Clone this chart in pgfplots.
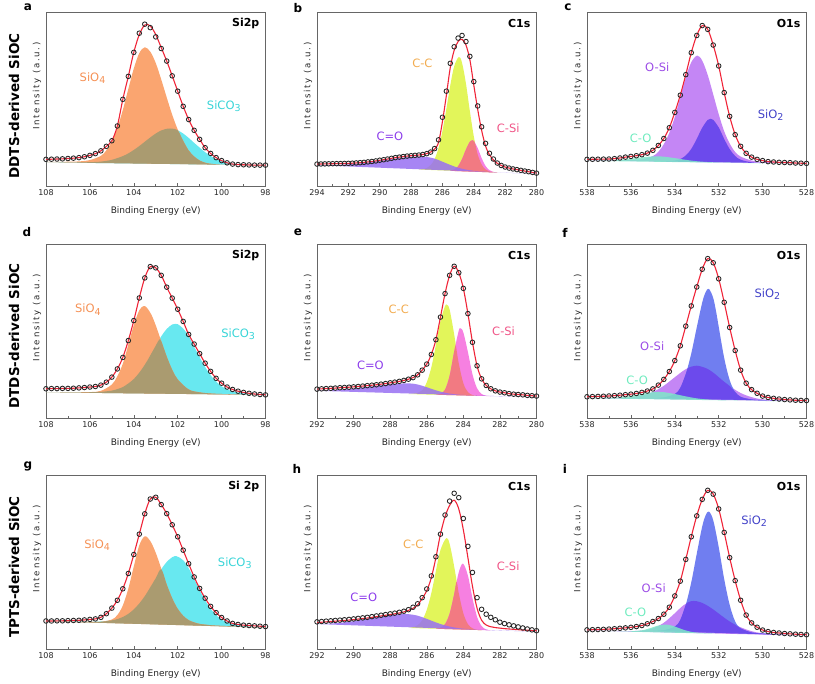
\documentclass[border=0pt]{standalone}
\usepackage{pgfplots}
\usepackage{pgfplotstable}
\pgfplotsset{compat=1.18}
\usepackage{fontspec}
\setmainfont{DejaVu Sans}
\newfontfamily\spacedfont[LetterSpace=20]{DejaVu Sans}

\definecolor{fSiO}{RGB}{250,165,112}
\definecolor{fSiCO}{RGB}{104,232,240}
\definecolor{fSiOv}{RGB}{170,155,112}
\definecolor{fCC}{RGB}{226,245,90}
\definecolor{fCSi}{RGB}{246,128,225}
\definecolor{fCov}{RGB}{242,122,130}
\definecolor{fCeqO}{RGB}{152,112,242}
\definecolor{fOSi}{RGB}{196,134,245}
\definecolor{fSiOt}{RGB}{112,126,240}
\definecolor{fOov}{RGB}{108,74,236}
\definecolor{fCO}{RGB}{126,232,200}
\definecolor{fitred}{RGB}{240,36,56}
\definecolor{lSiO}{RGB}{245,145,85}
\definecolor{lSiCO}{RGB}{55,212,215}
\definecolor{lCC}{RGB}{242,172,80}
\definecolor{lCSi}{RGB}{240,85,135}
\definecolor{lCeqO}{RGB}{140,60,235}
\definecolor{lOSi}{RGB}{155,75,230}
\definecolor{lSiOt}{RGB}{65,65,200}
\definecolor{lCO}{RGB}{110,235,190}

\newcommand{\tickfont}{\fontsize{8bp}{9bp}\selectfont}
\newcommand{\axlabfont}{\fontsize{9bp}{10bp}\selectfont}
\newcommand{\ylabfont}{\spacedfont\fontsize{8.6bp}{9bp}\selectfont}
\newcommand{\labfont}{\fontsize{11.5bp}{12bp}\selectfont}
\newcommand{\sub}[1]{\raisebox{-0.35ex}{\fontsize{9.5bp}{10bp}\selectfont #1}}

\tikzset{
 lab/.style={font=\labfont},
 ttl/.style={anchor=east, font=\fontsize{11bp}{12bp}\selectfont\bfseries},
}
\pgfplotsset{
 xps/.style={
  scale only axis, width=219.5bp, height=174bp, anchor=south west,
  x dir=reverse, ymin=0, ymax=100, ytick=\empty,
  xtick distance=2, minor x tick num=1,
  tick align=inside, xtick pos=bottom,
  major tick length=3bp, minor tick length=1.8bp,
  axis line style={black!60, line width=0.7bp},
  tick style={black!60, line width=0.5bp},
  /pgf/number format/assume math mode=true,
  /pgf/number format/1000 sep={},
  xticklabel style={font=\tickfont, text=black!85, yshift=-0.5bp},
  xlabel={Binding Energy (eV)},
  xlabel style={font=\axlabfont, text=black!85, at={(axis description cs:0.5,-0.145)}, anchor=center},
  ylabel={Intensity (a.u.)},
  ylabel style={font=\ylabfont, text=black!85, at={(axis description cs:-0.041,0.575)}, anchor=center},
 },
 comp/.style={draw=none, smooth, tension=0.55},
 fitline/.style={smooth, tension=0.55, draw=fitred, line width=1.1bp, no marks},
 datamarks/.style={only marks, mark=o, mark size=2.3bp, mark options={draw=black!85, line width=0.85bp}},
}

% ---------- measured / fitted curves (x, fit e, data d) ----------
\pgfplotstableread[row sep=\\]{
x e d\\
108 15.3 15.3\\ 107.75 15.4 15.4\\ 107.5 15.5 15.5\\ 107.25 15.6 15.6\\ 107 15.8 15.8\\
106.75 16.0 16.0\\ 106.5 16.3 16.3\\ 106.25 16.8 16.8\\ 106 17.6 17.6\\ 105.75 18.6 18.6\\
105.5 20.2 20.2\\ 105.25 22.8 22.8\\ 105 26.0 26.0\\ 104.75 34.5 34.5\\ 104.5 49.8 49.8\\
104.25 63.0 63.0\\ 104 76.8 76.8\\ 103.75 87.0 87.8\\ 103.5 92.5 93.0\\ 103.25 92.0 91.0\\
103 87.0 85.7\\ 102.75 79.5 79.0\\ 102.5 71.8 71.8\\ 102.25 63.3 63.3\\ 102 54.5 54.5\\
101.75 45.8 45.8\\ 101.5 38.2 38.2\\ 101.25 32.0 32.0\\ 101 26.8 26.8\\ 100.75 22.0 22.0\\
100.5 18.7 18.7\\ 100.25 16.3 16.3\\ 100 14.6 14.6\\ 99.75 13.3 13.3\\ 99.5 12.6 12.6\\
99.25 12.3 12.3\\ 99 12.2 12.2\\ 98.75 12.1 12.1\\ 98.5 12.0 12.0\\ 98.25 12.0 12.0\\ 98 12.0 12.0\\
}\tabA

\pgfplotstableread[row sep=\\]{
x e d\\
294 12.6 12.6\\ 293.75 12.65 12.65\\ 293.5 12.7 12.7\\ 293.25 12.75 12.75\\ 293 12.8 12.8\\
292.75 12.85 12.85\\ 292.5 12.9 12.9\\ 292.25 12.95 12.95\\ 292 13.0 13.0\\ 291.75 13.1 13.1\\
291.5 13.25 13.25\\ 291.25 13.4 13.4\\ 291 13.6 13.6\\ 290.75 13.85 13.85\\ 290.5 14.1 14.1\\
290.25 14.4 14.4\\ 290 14.8 14.8\\ 289.75 15.1 15.1\\ 289.5 15.5 15.5\\ 289.25 15.9 15.9\\
289 16.3 16.3\\ 288.75 16.6 16.6\\ 288.5 16.9 16.9\\ 288.25 17.2 17.2\\ 288 17.4 17.4\\
287.75 17.6 17.6\\ 287.5 17.8 17.8\\ 287.25 18.1 18.1\\ 287 18.6 18.6\\ 286.75 19.5 19.5\\
286.5 21.2 21.5\\ 286.25 25.0 26.5\\ 286 37.0 39.5\\ 285.75 52.0 54.5\\ 285.5 68.0 70.5\\
285.25 78.0 80.0\\ 285 83.0 85.0\\ 284.75 84.3 86.5\\ 284.5 81.0 83.0\\ 284.25 72.5 74.5\\
284 58.0 60.0\\ 283.75 44.0 46.0\\ 283.5 32.0 34.0\\ 283.25 23.0 24.5\\ 283 18.0 18.8\\
282.75 15.0 15.5\\ 282.5 13.0 13.2\\ 282.25 11.8 11.8\\ 282 10.9 10.9\\ 281.75 10.3 10.3\\
281.5 9.8 9.8\\ 281.25 9.4 9.4\\ 281 9.0 9.0\\ 280.75 8.6 8.6\\ 280.5 8.2 8.2\\
280.25 7.8 7.8\\ 280 7.4 7.4\\
}\tabB

\pgfplotstableread[row sep=\\]{
x e\\
538 15.3\\ 537.75 15.35\\ 537.5 15.4\\ 537.25 15.45\\ 537 15.5\\ 536.75 15.7\\ 536.5 16.1\\
536.25 16.6\\ 536 17.0\\ 535.75 17.4\\ 535.5 18.0\\ 535.25 18.9\\ 535 20.5\\ 534.75 23.3\\
534.5 27.3\\ 534.25 33.5\\ 534 42.3\\ 533.75 52.2\\ 533.5 64.0\\ 533.25 76.6\\ 533 86.5\\
532.75 92.2\\ 532.5 90.0\\ 532.25 81.0\\ 532 69.0\\ 531.75 53.7\\ 531.5 40.0\\ 531.25 29.5\\
531 22.8\\ 530.75 18.8\\ 530.5 16.6\\ 530.25 15.3\\ 530 14.6\\ 529.75 14.0\\ 529.5 13.8\\
529.25 13.6\\ 529 13.5\\ 528.75 13.4\\ 528.5 13.2\\ 528.25 13.1\\ 528 13.0\\
}\tabC

\pgfplotstableread[row sep=\\]{
x e\\
108 16.8\\ 107.75 16.9\\ 107.5 16.9\\ 107.25 17.0\\ 107 17.0\\ 106.75 17.1\\ 106.5 17.3\\
106.25 17.5\\ 106 17.8\\ 105.75 18.1\\ 105.5 18.9\\ 105.25 20.6\\ 105 23.5\\ 104.75 28.2\\
104.5 34.8\\ 104.25 44.5\\ 104 56.0\\ 103.75 69.0\\ 103.5 80.5\\ 103.25 87.0\\ 103 86.3\\
102.75 82.0\\ 102.5 75.2\\ 102.25 68.9\\ 102 62.5\\ 101.75 55.5\\ 101.5 48.0\\ 101.25 42.5\\
101 37.0\\ 100.75 31.5\\ 100.5 26.8\\ 100.25 22.8\\ 100 20.0\\ 99.75 17.8\\ 99.5 16.4\\
99.25 15.4\\ 99 14.7\\ 98.75 14.2\\ 98.5 13.8\\ 98.25 13.5\\ 98 13.3\\
}\tabD

\pgfplotstableread[row sep=\\]{
x e\\
292 16.6\\ 291.75 16.75\\ 291.5 16.9\\ 291.25 17.05\\ 291 17.2\\ 290.75 17.4\\ 290.5 17.55\\
290.25 17.7\\ 290 17.9\\ 289.75 18.1\\ 289.5 18.35\\ 289.25 18.6\\ 289 18.85\\ 288.75 19.1\\
288.5 19.45\\ 288.25 19.8\\ 288 20.2\\ 287.75 20.6\\ 287.5 21.05\\ 287.25 21.6\\ 287 22.3\\
286.75 23.2\\ 286.5 24.8\\ 286.25 27.5\\ 286 31.0\\ 285.75 36.5\\ 285.5 45.0\\ 285.25 58.0\\
285 71.5\\ 284.75 82.0\\ 284.5 87.2\\ 284.25 83.5\\ 284 74.5\\ 283.75 60.0\\ 283.5 43.5\\
283.25 30.0\\ 283 22.5\\ 282.75 18.7\\ 282.5 16.8\\ 282.25 15.6\\ 282 14.9\\ 281.75 14.5\\
281.5 14.0\\ 281.25 13.7\\ 281 13.5\\ 280.75 13.3\\ 280.5 13.0\\ 280.25 12.8\\ 280 12.6\\
}\tabE

\pgfplotstableread[row sep=\\]{
x e\\
538 12.2\\ 537.75 12.3\\ 537.5 12.4\\ 537.25 12.5\\ 537 12.65\\ 536.75 12.85\\ 536.5 13.1\\
536.25 13.4\\ 536 13.7\\ 535.75 14.1\\ 535.5 14.7\\ 535.25 15.5\\ 535 16.7\\ 534.75 18.9\\
534.5 22.2\\ 534.25 26.7\\ 534 33.0\\ 533.75 41.5\\ 533.5 52.8\\ 533.25 64.4\\ 533 75.3\\
532.75 85.5\\ 532.5 91.6\\ 532.25 89.2\\ 532 80.0\\ 531.75 66.5\\ 531.5 52.0\\ 531.25 38.8\\
531 27.5\\ 530.75 20.0\\ 530.5 16.3\\ 530.25 14.2\\ 530 12.6\\ 529.75 11.8\\ 529.5 11.3\\
529.25 10.9\\ 529 10.6\\ 528.75 10.4\\ 528.5 10.2\\ 528.25 10.1\\ 528 10.0\\
}\tabF

\pgfplotstableread[row sep=\\]{
x e\\
108 16.1\\ 107.75 16.1\\ 107.5 16.2\\ 107.25 16.2\\ 107 16.3\\ 106.75 16.4\\ 106.5 16.5\\
106.25 16.7\\ 106 17.0\\ 105.75 17.3\\ 105.5 18.2\\ 105.25 20.3\\ 105 23.5\\ 104.75 28.0\\
104.5 34.6\\ 104.25 43.4\\ 104 54.3\\ 103.75 66.0\\ 103.5 77.7\\ 103.25 86.2\\ 103 87.2\\
102.75 83.0\\ 102.5 77.8\\ 102.25 71.4\\ 102 64.5\\ 101.75 56.8\\ 101.5 49.0\\ 101.25 41.4\\
101 34.8\\ 100.75 29.2\\ 100.5 24.5\\ 100.25 20.9\\ 100 18.1\\ 99.75 16.1\\ 99.5 14.7\\
99.25 14.1\\ 99 13.7\\ 98.75 13.5\\ 98.5 13.3\\ 98.25 13.1\\ 98 12.9\\
}\tabG

\pgfplotstableread[row sep=\\]{
x e d\\
292 15.2 15.6\\ 291.75 15.4 15.8\\ 291.5 15.6 16.0\\ 291.25 15.8 16.2\\ 291 16.0 16.4\\
290.75 16.2 16.6\\ 290.5 16.4 16.8\\ 290.25 16.65 17.0\\ 290 16.9 17.3\\ 289.75 17.2 17.6\\
289.5 17.5 17.9\\ 289.25 17.8 18.2\\ 289 18.2 18.6\\ 288.75 18.6 19.0\\ 288.5 19.0 19.4\\
288.25 19.4 19.8\\ 288 19.8 20.2\\ 287.75 20.2 20.6\\ 287.5 20.7 21.1\\ 287.25 21.3 21.7\\
287 22.2 22.6\\ 286.75 23.4 24.0\\ 286.5 25.3 26.0\\ 286.25 29.0 29.5\\ 286 33.5 34.5\\
285.75 41.0 42.0\\ 285.5 52.5 53.0\\ 285.25 66.0 66.0\\ 285 76.0 77.0\\ 284.75 82.5 85.0\\
284.5 85.5 89.5\\ 284.25 80.5 87.0\\ 284 68.5 75.0\\ 283.75 52.5 59.0\\ 283.5 36.0 44.0\\
283.25 23.5 29.5\\ 283 16.5 22.8\\ 282.75 13.8 20.0\\ 282.5 12.8 18.2\\ 282.25 12.3 16.8\\
282 12.0 15.4\\ 281.75 11.7 14.6\\ 281.5 11.5 13.9\\ 281.25 11.3 13.3\\ 281 11.1 12.7\\
280.75 10.9 12.1\\ 280.5 10.8 11.5\\ 280.25 10.6 11.0\\ 280 10.5 10.5\\
}\tabH

\pgfplotstableread[row sep=\\]{
x e\\
538 11.0\\ 537.75 11.1\\ 537.5 11.2\\ 537.25 11.3\\ 537 11.45\\ 536.75 11.65\\ 536.5 11.9\\
536.25 12.15\\ 536 12.45\\ 535.75 12.9\\ 535.5 13.5\\ 535.25 14.5\\ 535 15.8\\ 534.75 17.5\\
534.5 20.0\\ 534.25 24.0\\ 534 30.5\\ 533.75 39.0\\ 533.5 51.5\\ 533.25 64.5\\ 533 76.5\\
532.75 86.0\\ 532.5 91.2\\ 532.25 89.0\\ 532 80.5\\ 531.75 67.0\\ 531.5 52.5\\ 531.25 39.3\\
531 28.0\\ 530.75 19.5\\ 530.5 15.0\\ 530.25 12.5\\ 530 10.9\\ 529.75 10.0\\ 529.5 9.5\\
529.25 9.2\\ 529 8.9\\ 528.75 8.7\\ 528.5 8.5\\ 528.25 8.35\\ 528 8.2\\
}\tabI

\begin{document}
\begin{tikzpicture}
\path[use as bounding box] (0,0) rectangle (815bp,684bp);

% ================= a =================
\begin{axis}[xps, at={(46bp,498bp)}, xmin=98, xmax=108]
\addplot[comp, fill=fSiCO] coordinates {(108,13.6)(107,13.55)(106.5,13.53)(106,13.7)(105.5,14.03)(105,15.05)(104.5,17.18)(104.25,18.74)(104,20.7)(103.75,22.96)(103.5,25.43)(103.25,27.89)(103,30.15)(102.75,31.91)(102.5,32.88)(102.35,33.06)(102.25,32.94)(102,32.0)(101.75,30.16)(101.5,27.63)(101.25,24.79)(101,22.05)(100.75,19.41)(100.5,17.28)(100.25,15.54)(100,14.3)(99.5,12.83)(99,12.25)(98.5,12.03)(98,11.9)} -- cycle;
\addplot[comp, fill=fSiO] coordinates {(108,13.8)(107,13.95)(106.5,14.13)(106,14.9)(105.5,17.33)(105.25,20.49)(105,25.65)(104.75,33.41)(104.5,43.68)(104.25,55.74)(104,67.5)(103.75,76.36)(103.5,79.73)(103.25,77.19)(103,70.65)(102.75,61.21)(102.5,50.88)(102.25,40.94)(102,32.5)(101.75,25.96)(101.5,20.43)(101.25,16.99)(101,14.65)(100.75,13.41)(100.5,12.78)(100,12.3)(99,12.05)(98,11.9)} -- cycle;
\addplot[comp, fill=fSiOv] coordinates {(108,13.6)(107,13.55)(106.5,13.53)(106,13.7)(105.5,14.03)(105,15.05)(104.5,17.18)(104.25,18.74)(104,20.7)(103.75,22.96)(103.5,25.43)(103.25,27.89)(103,30.15)(102.75,31.91)(102.5,32.88)(102.35,33.05)(102.25,32.94)(102,32.0)(101.75,25.96)(101.5,20.43)(101.25,16.99)(101,14.65)(100.75,13.41)(100.5,12.78)(100,12.3)(99,12.05)(98,11.9)} -- cycle;
\addplot[datamarks] table[x=x,y=d]{\tabA};
\addplot[fitline] table[x=x,y=e]{\tabA};
\node[lab, text=lSiO] at (axis cs:105.88,61.8) {SiO\sub{4}};
\node[lab, text=lSiCO] at (axis cs:99.9,45.9) {SiCO\sub{3}};
\node[ttl] at (rel axis cs:0.988,0.935) {Si2p};
\end{axis}

% ================= b =================
\begin{axis}[xps, at={(317bp,498bp)}, xmin=280, xmax=294]
\addplot[comp, fill=fCC] coordinates {(287.5,9.46)(287,10.3)(286.75,12.0)(286.5,15.5)(286.25,21.75)(286,31.6)(285.75,44.3)(285.5,57.8)(285.25,68.8)(284.95,74.2)(284.75,70.8)(284.5,58.9)(284.25,43.0)(284,28.6)(283.75,18.1)(283.5,12.35)(283.25,9.5)(283,8.4)(282.5,7.72)} -- cycle;
\addplot[comp, fill=fCSi] coordinates {(285.5,8.71)(285.25,9.5)(285,11.4)(284.75,15.5)(284.5,21.0)(284.25,25.5)(284.1,26.35)(284,25.9)(283.75,21.8)(283.5,16.05)(283.25,11.5)(283,9.1)(282.75,8.1)(282.5,7.72)} -- cycle;
\addplot[comp, fill=fCov] coordinates {(285.5,8.71)(285.25,9.5)(285,11.4)(284.75,15.5)(284.5,21.0)(284.25,25.5)(284.1,26.35)(284,25.9)(283.9,23.9)(283.75,18.1)(283.5,12.35)(283.25,9.5)(283,8.4)(282.75,7.8)(282.5,7.72)} -- cycle;
\addplot[comp, fill=fCeqO, fill opacity=0.85] coordinates {(294,11.94)(293,12.02)(292,12.44)(291,13.26)(290,14.46)(289,15.76)(288.5,16.3)(288,16.69)(287.5,16.91)(287.1,16.83)(286.5,15.74)(286,13.97)(285.5,12.11)(285,10.5)(284.5,9.42)(284,8.71)(283.5,8.32)(283,8.06)(282,7.64)(281,7.28)(280,6.94)} -- cycle;
\addplot[datamarks] table[x=x,y=d]{\tabB};
\addplot[fitline] table[x=x,y=e]{\tabB};
\node[lab, text=lCC] at (axis cs:287.28,70.4) {C-C};
\node[lab, text=lCSi] at (axis cs:281.8,33.1) {C-Si};
\node[lab, text=lCeqO] at (axis cs:289.35,28.7) {C=O};
\node[ttl] at (rel axis cs:0.988,0.935) {C1s};
\end{axis}

% ================= c =================
\begin{axis}[xps, at={(587bp,498bp)}, xmin=528, xmax=538]
\addplot[comp, fill=fOSi] coordinates {(538,14.7)(537,14.69)(536,14.86)(535.5,15.38)(535,17.19)(534.75,19.65)(534.5,24.01)(534.25,30.56)(534,39.62)(533.75,51.08)(533.5,62.34)(533.25,71.1)(532.98,74.96)(532.75,72.02)(532.5,63.77)(532.25,52.63)(532,41.28)(531.75,31.44)(531.5,24.4)(531.25,19.55)(531,16.91)(530.5,14.63)(530,13.84)(529,13.27)(528,13.0)} -- cycle;
\addplot[comp, fill=fOov] coordinates {(535,14.14)(534.5,14.16)(534,14.62)(533.75,15.48)(533.5,17.54)(533.25,21.3)(533,27.06)(532.75,33.52)(532.5,37.97)(532.37,38.65)(532.25,38.03)(532,33.68)(531.75,27.04)(531.5,21.2)(531.25,17.25)(531,15.11)(530.5,13.63)(530,13.24)} -- cycle;
\addplot[comp, fill=fCO, fill opacity=0.85] coordinates {(538,14.48)(537,14.58)(536.5,14.95)(536,15.62)(535.5,16.47)(535,17.02)(534.8,17.06)(534.5,16.86)(534,16.02)(533.5,15.02)(533,14.24)(532.5,13.76)(532,13.51)(531,13.24)(530,13.04)(528,12.7)} -- cycle;
\addplot[datamarks] table[x=x,y=e]{\tabC};
\addplot[fitline] table[x=x,y=e]{\tabC};
\node[lab, text=lOSi] at (axis cs:534.8,68.5) {O-Si};
\node[lab, text=lSiOt] at (axis cs:529.63,40.7) {SiO\sub{2}};
\node[lab, text=lCO] at (axis cs:535.56,27.3) {C-O};
\node[ttl] at (rel axis cs:0.988,0.935) {O1s};
\end{axis}

% ================= d =================
\begin{axis}[xps, at={(46bp,266bp)}, xmin=98, xmax=108]
\addplot[comp, fill=fSiCO] coordinates {(108,14.75)(107,14.75)(106,14.8)(105.5,15.03)(105,15.75)(104.75,16.61)(104.5,17.78)(104.25,19.84)(104,22.4)(103.75,26.06)(103.55,29.63)(103.4,32.61)(103.2,37.08)(103,41.55)(102.75,46.91)(102.5,51.18)(102.25,53.74)(102.1,54.12)(102,53.9)(101.75,51.46)(101.5,46.93)(101.25,40.99)(101,34.95)(100.75,29.31)(100.5,24.58)(100.25,20.94)(100,18.2)(99.5,15.23)(99,14.15)(98.5,13.58)(98,13.3)} -- cycle;
\addplot[comp, fill=fSiO] coordinates {(108,14.75)(107,14.75)(106,14.9)(105.5,15.6)(105,19.25)(104.75,24.0)(104.5,31.2)(104.25,42.1)(104,53.4)(103.75,61.9)(103.55,64.33)(103.4,63.3)(103.2,59.4)(103,53.25)(102.75,44.2)(102.5,35.3)(102.25,27.7)(102,22.2)(101.5,16.4)(101,14.75)(100.5,14.1)(100,13.8)(99,13.45)(98,13.25)} -- cycle;
\addplot[comp, fill=fSiOv] coordinates {(108,14.75)(107,14.75)(106,14.8)(105.5,15.03)(105,15.75)(104.75,16.61)(104.5,17.78)(104.25,19.84)(104,22.4)(103.75,26.06)(103.55,29.63)(103.4,32.61)(103.2,37.08)(103,41.55)(102.85,44.93)(102.75,44.2)(102.5,35.3)(102.25,27.7)(102,22.2)(101.5,16.4)(101,14.75)(100.5,14.1)(100,13.8)(99,13.45)(98,13.25)} -- cycle;
\addplot[datamarks] table[x=x,y=e]{\tabD};
\addplot[fitline] table[x=x,y=e]{\tabD};
\node[lab, text=lSiO] at (axis cs:106.09,62.3) {SiO\sub{4}};
\node[lab, text=lSiCO] at (axis cs:99.25,48.1) {SiCO\sub{3}};
\node[ttl] at (rel axis cs:0.988,0.935) {Si2p};
\end{axis}

% ================= e =================
\begin{axis}[xps, at={(317bp,266bp)}, xmin=280, xmax=292]
\addplot[comp, fill=fCC] coordinates {(287,13.77)(286.5,14.4)(286.25,15.9)(286,20.5)(285.75,29.1)(285.5,42.0)(285.25,55.7)(285,64.3)(284.9,65.1)(284.75,62.3)(284.5,48.0)(284.25,31.4)(284,20.0)(283.75,14.9)(283.5,13.2)(283.25,12.77)} -- cycle;
\addplot[comp, fill=fCSi] coordinates {(285.5,13.37)(285.25,13.9)(285,16.3)(284.75,24.3)(284.5,38.3)(284.25,50.2)(284.15,51.5)(284,49.2)(283.75,37.9)(283.5,25.1)(283.25,17.1)(283,13.8)(282.75,12.8)(282.5,12.57)} -- cycle;
\addplot[comp, fill=fCov] coordinates {(285.5,13.37)(285.25,13.9)(285,16.3)(284.75,24.3)(284.5,38.3)(284.43,41.4)(284.4,41.07)(284.25,31.4)(284,20.0)(283.75,14.9)(283.5,13.2)(283.25,12.77)} -- cycle;
\addplot[comp, fill=fCeqO, fill opacity=0.85] coordinates {(292,15.63)(291,16.02)(290,16.86)(289,18.14)(288,19.38)(287.5,19.77)(286.9,19.84)(286.5,19.27)(286,17.68)(285.5,15.91)(285,14.52)(284.5,13.68)(284,13.23)(283,12.79)(282,12.48)(281,12.2)(280,11.92)} -- cycle;
\addplot[datamarks] table[x=x,y=e]{\tabE};
\addplot[fitline] table[x=x,y=e]{\tabE};
\node[lab, text=lCC] at (axis cs:287.53,62.3) {C-C};
\node[lab, text=lCSi] at (axis cs:281.8,49.6) {C-Si};
\node[lab, text=lCeqO] at (axis cs:289.08,30.2) {C=O};
\node[ttl] at (rel axis cs:0.988,0.935) {C1s};
\end{axis}

% ================= f =================
\begin{axis}[xps, at={(587bp,266bp)}, xmin=528, xmax=538]
\addplot[comp, fill=fOSi] coordinates {(538,11.5)(537,11.43)(536,11.82)(535.5,12.8)(535,14.93)(534.5,18.54)(534,23.44)(533.5,28.05)(533,30.05)(532.5,28.15)(532,23.46)(531.5,18.37)(531,14.37)(530.5,11.98)(530,10.73)(529,9.89)(528,9.6)} -- cycle;
\addplot[comp, fill=fSiOt] coordinates {(535,11.43)(534.5,11.79)(534,13.74)(533.75,17.29)(533.5,25.25)(533.25,37.1)(533,52.05)(532.75,66.4)(532.6,72.2)(532.45,74.24)(532.25,69.0)(532.1,59.9)(532,52.46)(531.75,34.51)(531.5,21.77)(531.25,14.92)(531,12.17)(530.5,10.68)(530,10.28)(529,9.89)} -- cycle;
\addplot[comp, fill=fOov] coordinates {(535,11.43)(534.5,11.79)(534,13.74)(533.75,17.29)(533.5,25.25)(533.4,28.8)(533.25,29.5)(533,30.05)(532.75,29.4)(532.5,28.15)(532.25,26.1)(532,23.46)(531.75,20.8)(531.5,18.37)(531.25,14.92)(531,12.17)(530.5,10.68)(530,10.28)(529,9.89)} -- cycle;
\addplot[comp, fill=fCO, fill opacity=0.85] coordinates {(538,11.38)(537,11.43)(536.5,11.81)(536,12.62)(535.5,13.83)(535,14.81)(534.7,14.97)(534.5,14.84)(534,13.78)(533.5,12.41)(533,11.29)(532.5,10.62)(532,10.31)(531,10.02)(530,9.8)(528,9.4)} -- cycle;
\addplot[datamarks] table[x=x,y=e]{\tabF};
\addplot[fitline] table[x=x,y=e]{\tabF};
\node[lab, text=lSiOt] at (axis cs:529.78,71.4) {SiO\sub{2}};
\node[lab, text=lOSi] at (axis cs:535.03,41.4) {O-Si};
\node[lab, text=lCO] at (axis cs:535.72,21.6) {C-O};
\node[ttl] at (rel axis cs:0.988,0.935) {O1s};
\end{axis}

% ================= g =================
\begin{axis}[xps, at={(46bp,35bp)}, xmin=98, xmax=108]
\addplot[comp, fill=fSiCO] coordinates {(108,16.05)(107,15.82)(106,15.64)(105.5,15.83)(105,16.46)(104.75,17.2)(104.5,18.4)(104.25,20.19)(104,22.78)(103.75,26.17)(103.5,30.37)(103.25,35.46)(103,40.7)(102.75,45.84)(102.5,50.04)(102.25,52.73)(102.05,53.32)(101.75,51.0)(101.5,46.4)(101.25,40.3)(101,33.9)(100.75,28.05)(100.5,23.15)(100.25,19.5)(100,16.9)(99.5,14.3)(99,13.2)(98.5,12.7)(98,12.35)} -- cycle;
\addplot[comp, fill=fSiO] coordinates {(108,15.95)(107,15.67)(106,15.54)(105.5,15.63)(105,16.96)(104.75,19.5)(104.5,25.0)(104.25,34.69)(104,47.48)(103.75,59.57)(103.5,64.77)(103.25,62.06)(103,55.3)(102.75,46.24)(102.5,37.04)(102.25,29.13)(102,23.12)(101.75,19.11)(101.5,16.6)(101.25,15.3)(101,14.44)(100.5,13.68)(100,13.31)(99,12.78)(98,12.3)} -- cycle;
\addplot[comp, fill=fSiOv] coordinates {(108,15.95)(107,15.67)(106,15.54)(105.5,15.63)(105,16.46)(104.75,17.2)(104.5,18.4)(104.25,20.19)(104,22.78)(103.75,26.17)(103.5,30.37)(103.25,35.46)(103,40.7)(102.75,45.8)(102.5,37.04)(102.25,29.13)(102,23.12)(101.75,19.11)(101.5,16.6)(101.25,15.3)(101,14.44)(100.5,13.68)(100,13.31)(99,12.78)(98,12.3)} -- cycle;
\addplot[datamarks] table[x=x,y=e]{\tabG};
\addplot[fitline] table[x=x,y=e]{\tabG};
\node[lab, text=lSiO] at (axis cs:105.67,59.7) {SiO\sub{4}};
\node[lab, text=lSiCO] at (axis cs:99.4,49.4) {SiCO\sub{3}};
\node[ttl] at (rel axis cs:0.988,0.935) {Si 2p};
\end{axis}

% ================= h =================
\begin{axis}[xps, at={(317bp,35bp)}, xmin=280, xmax=292]
\addplot[comp, fill=fCC] coordinates {(287,12.12)(286.75,12.54)(286.5,13.66)(286.25,16.53)(286,22.5)(285.75,32.1)(285.5,44.9)(285.25,56.9)(284.93,63.76)(284.75,60.4)(284.5,47.4)(284.25,32.05)(284,20.5)(283.75,14.3)(283.5,11.9)(283.25,11.03)(283,10.85)} -- cycle;
\addplot[comp, fill=fCSi] coordinates {(285.5,11.64)(285.25,12.2)(285,14.3)(284.75,20.3)(284.5,31.6)(284.25,44.05)(284.02,49.07)(283.75,42.2)(283.5,29.2)(283.25,18.5)(283,13.15)(282.75,11.27)(282.5,10.69)} -- cycle;
\addplot[comp, fill=fCov] coordinates {(285.5,11.64)(285.25,12.2)(285,14.3)(284.75,20.3)(284.5,31.6)(284.37,38.6)(284.25,32.05)(284,20.5)(283.75,14.3)(283.5,11.9)(283.25,11.03)(283,10.85)} -- cycle;
\addplot[comp, fill=fCeqO, fill opacity=0.85] coordinates {(292,14.33)(291,14.83)(290,15.97)(289,17.74)(288,19.43)(287.5,19.94)(287,20.02)(286.5,19.16)(286,17.33)(285.5,15.27)(285,13.55)(284.5,12.39)(284,11.68)(283,11.02)(282,10.61)(281,10.27)(280,9.94)} -- cycle;
\addplot[datamarks] table[x=x,y=d]{\tabH};
\addplot[fitline] table[x=x,y=e]{\tabH};
\node[lab, text=lCC] at (axis cs:286.74,60) {C-C};
\node[lab, text=lCSi] at (axis cs:281.55,47.6) {C-Si};
\node[lab, text=lCeqO] at (axis cs:289.44,29.5) {C=O};
\node[ttl] at (rel axis cs:0.988,0.935) {C1s};
\end{axis}

% ================= i =================
\begin{axis}[xps, at={(587bp,35bp)}, xmin=528, xmax=538]
\addplot[comp, fill=fOSi] coordinates {(538,10.6)(537,10.41)(536,10.32)(535.5,10.58)(535,11.83)(534.5,15.09)(534,20.54)(533.75,23.57)(533.5,26.0)(533.13,27.6)(532.75,26.48)(532.5,24.81)(532.25,22.73)(532,20.36)(531.75,17.99)(531.5,15.82)(531.25,13.94)(531,12.47)(530.5,10.23)(530,9.08)(529,8.09)(528,7.7)} -- cycle;
\addplot[comp, fill=fSiOt] coordinates {(535,10.43)(534.5,10.79)(534,12.84)(533.75,16.67)(533.5,25.4)(533.25,38.32)(533,54.75)(532.75,70.48)(532.6,76.7)(532.45,78.99)(532.25,74.03)(532,58.56)(531.75,40.19)(531.5,25.32)(531.25,15.84)(531,11.87)(530.5,9.53)(530,8.88)(529,8.29)} -- cycle;
\addplot[comp, fill=fOov] coordinates {(535,10.43)(534.5,10.79)(534,12.84)(533.75,16.67)(533.5,25.4)(533.4,26.77)(533.25,27.52)(533.13,27.6)(533,27.45)(532.75,26.48)(532.5,24.81)(532.25,22.73)(532,20.36)(531.75,17.99)(531.5,15.82)(531.25,13.94)(531,11.87)(530.5,9.53)(530,8.88)(529,8.09)} -- cycle;
\addplot[comp, fill=fCO, fill opacity=0.85] coordinates {(537,10.21)(536.5,10.15)(536,10.16)(535.5,10.76)(535.25,11.5)(535,12.48)(534.75,13.49)(534.42,14.06)(534.25,13.81)(534,12.91)(533.75,11.73)(533.5,10.67)(533.25,9.89)(533,9.42)(532.5,9.01)(532,8.76)} -- cycle;
\addplot[datamarks] table[x=x,y=e]{\tabI};
\addplot[fitline] table[x=x,y=e]{\tabI};
\node[lab, text=lSiOt] at (axis cs:530.39,73.3) {SiO\sub{2}};
\node[lab, text=lOSi] at (axis cs:534.96,35.2) {O-Si};
\node[lab, text=lCO] at (axis cs:535.8,21) {C-O};
\node[ttl] at (rel axis cs:0.988,0.935) {O1s};
\end{axis}

% ---------- panel letters and row labels ----------
\begin{scope}[every node/.style={font=\fontsize{12bp}{12bp}\selectfont\bfseries}]
\node at (28bp,677bp) {a};
\node at (298bp,676bp) {b};
\node at (568bp,677bp) {c};
\node at (27bp,452bp) {d};
\node at (298bp,452bp) {e};
\node at (565bp,451bp) {f};
\node at (28bp,218bp) {g};
\node at (297bp,215bp) {h};
\node at (565bp,215bp) {i};
\end{scope}
\begin{scope}[every node/.style={rotate=90, font=\fontsize{13.5bp}{14bp}\selectfont\bfseries}]
\node at (14bp,578bp) {DDTS-derived SiOC};
\node at (14bp,348bp) {DTDS-derived SiOC};
\node at (14bp,117bp) {TPTS-derived SiOC};
\end{scope}
\end{tikzpicture}
\end{document}
